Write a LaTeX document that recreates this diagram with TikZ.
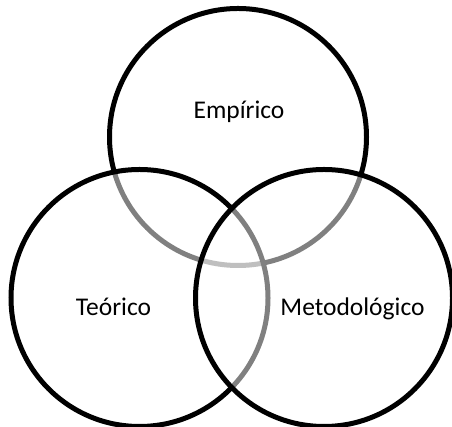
\documentclass[tikz,border=0pt]{standalone}
\usepackage{fontspec}
\setmainfont{Carlito}
\begin{document}
\begin{tikzpicture}[x=1pt,y=1pt,
  venn/.style={circle, minimum size=257pt, inner sep=0pt, line width=5pt,
    draw=black, fill=white, fill opacity=0.5, draw opacity=1},
  lbl/.style={anchor=base, font=\fontsize{25.5}{30}\selectfont, text=black}]
\useasboundingbox (0,0) rectangle (452,427);
\node[venn] (emp) at (238,290) {};
\node[venn] (teo) at (139.5,129) {};
\node[venn] (met) at (324,129) {};
\node[lbl] (lemp) at (239,308) {Empírico};
\node[lbl] (lteo) at (113.5,111) {Teórico};
\node[lbl] (lmet) at (352.5,111) {Metodológico};
\end{tikzpicture}
\end{document}
